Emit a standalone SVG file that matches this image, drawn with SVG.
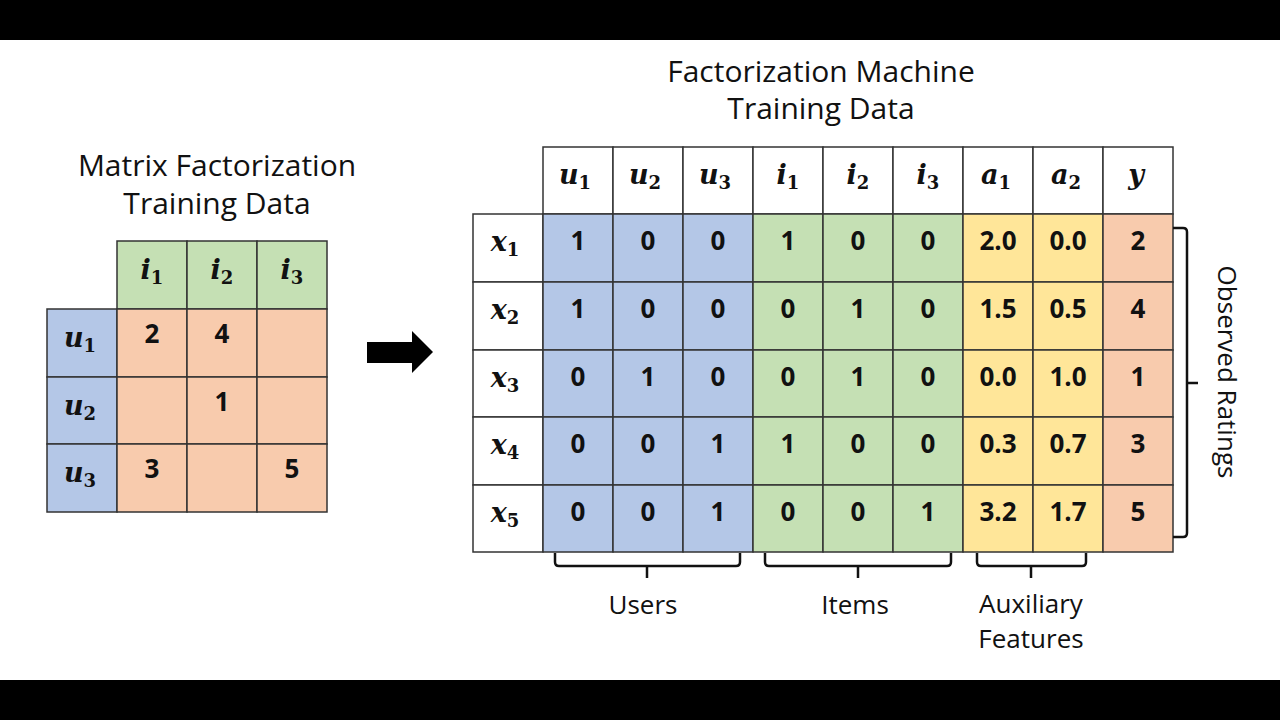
<svg xmlns="http://www.w3.org/2000/svg" width="1280" height="720" viewBox="0 0 1280 720">
<style>
.bar{fill:#000}
.c{stroke:#333;stroke-width:1.5}
.w{fill:#fff}
.b{fill:#B4C7E7}
.g{fill:#C5E0B4}
.y{fill:#FFE699}
.o{fill:#F8CBAD}
.t{font-family:"Open Sans","Noto Sans",sans-serif;font-size:30px;fill:#111;text-anchor:middle}
.l{font-family:"Open Sans","Noto Sans",sans-serif;font-size:26px;fill:#111;text-anchor:middle}
.n{font-family:"Open Sans","Noto Sans",sans-serif;font-size:26px;font-weight:bold;fill:#111;text-anchor:middle}
.m{font-family:"DejaVu Serif","Liberation Serif",serif;font-size:27px;font-weight:bold;font-style:italic;fill:#111;text-anchor:middle}
.s{font-size:18px;font-style:normal}
.br{fill:none;stroke:#111;stroke-width:2.5;stroke-linejoin:round;stroke-linecap:butt}
</style>
<rect x="0" y="0" width="1280" height="720" fill="#fff"/>
<rect class="bar" x="0" y="0" width="1280" height="40"/>
<rect class="bar" x="0" y="680" width="1280" height="40"/>

<g id="title-mf">
<text class="t" x="217" y="176">Matrix Factorization</text>
<text class="t" x="217" y="214">Training Data</text>
</g>
<g id="title-fm">
<text class="t" x="821" y="82">Factorization Machine</text>
<text class="t" x="821" y="119">Training Data</text>
</g>

<g id="mf-matrix">
<rect class="c g" x="117" y="241" width="70" height="68"/>
<rect class="c g" x="187" y="241" width="70" height="68"/>
<rect class="c g" x="257" y="241" width="70" height="68"/>
<rect class="c b" x="47" y="309" width="70" height="68"/>
<rect class="c b" x="47" y="377" width="70" height="67"/>
<rect class="c b" x="47" y="444" width="70" height="68"/>
<rect class="c o" x="117" y="309" width="70" height="68"/>
<rect class="c o" x="187" y="309" width="70" height="68"/>
<rect class="c o" x="257" y="309" width="70" height="68"/>
<rect class="c o" x="117" y="377" width="70" height="67"/>
<rect class="c o" x="187" y="377" width="70" height="67"/>
<rect class="c o" x="257" y="377" width="70" height="67"/>
<rect class="c o" x="117" y="444" width="70" height="68"/>
<rect class="c o" x="187" y="444" width="70" height="68"/>
<rect class="c o" x="257" y="444" width="70" height="68"/>
<text class="m" x="152" y="279">i<tspan class="s" dy="5">1</tspan></text>
<text class="m" x="222" y="279">i<tspan class="s" dy="5">2</tspan></text>
<text class="m" x="292" y="279">i<tspan class="s" dy="5">3</tspan></text>
<text class="m" x="80" y="347">u<tspan class="s" dy="5">1</tspan></text>
<text class="m" x="80" y="415">u<tspan class="s" dy="5">2</tspan></text>
<text class="m" x="80" y="482">u<tspan class="s" dy="5">3</tspan></text>
<text class="n" x="152" y="343">2</text>
<text class="n" x="222" y="343">4</text>
<text class="n" x="222" y="411">1</text>
<text class="n" x="152" y="478">3</text>
<text class="n" x="292" y="478">5</text>
</g>

<g id="arrow">
<path d="M367,342 H412 V331 L433,352 L412,373 V363 H367 Z" fill="#000"/>
</g>

<g id="fm-table">
<rect class="c w" x="543" y="147" width="70" height="67"/>
<rect class="c w" x="613" y="147" width="70" height="67"/>
<rect class="c w" x="683" y="147" width="70" height="67"/>
<rect class="c w" x="753" y="147" width="70" height="67"/>
<rect class="c w" x="823" y="147" width="70" height="67"/>
<rect class="c w" x="893" y="147" width="70" height="67"/>
<rect class="c w" x="963" y="147" width="70" height="67"/>
<rect class="c w" x="1033" y="147" width="70" height="67"/>
<rect class="c w" x="1103" y="147" width="70" height="67"/>
<rect class="c w" x="473" y="214" width="70" height="68"/>
<rect class="c w" x="473" y="282" width="70" height="68"/>
<rect class="c w" x="473" y="350" width="70" height="67"/>
<rect class="c w" x="473" y="417" width="70" height="68"/>
<rect class="c w" x="473" y="485" width="70" height="67"/>
<rect class="c b" x="543" y="214" width="70" height="68"/><rect class="c b" x="613" y="214" width="70" height="68"/><rect class="c b" x="683" y="214" width="70" height="68"/>
<rect class="c b" x="543" y="282" width="70" height="68"/><rect class="c b" x="613" y="282" width="70" height="68"/><rect class="c b" x="683" y="282" width="70" height="68"/>
<rect class="c b" x="543" y="350" width="70" height="67"/><rect class="c b" x="613" y="350" width="70" height="67"/><rect class="c b" x="683" y="350" width="70" height="67"/>
<rect class="c b" x="543" y="417" width="70" height="68"/><rect class="c b" x="613" y="417" width="70" height="68"/><rect class="c b" x="683" y="417" width="70" height="68"/>
<rect class="c b" x="543" y="485" width="70" height="67"/><rect class="c b" x="613" y="485" width="70" height="67"/><rect class="c b" x="683" y="485" width="70" height="67"/>
<rect class="c g" x="753" y="214" width="70" height="68"/><rect class="c g" x="823" y="214" width="70" height="68"/><rect class="c g" x="893" y="214" width="70" height="68"/>
<rect class="c g" x="753" y="282" width="70" height="68"/><rect class="c g" x="823" y="282" width="70" height="68"/><rect class="c g" x="893" y="282" width="70" height="68"/>
<rect class="c g" x="753" y="350" width="70" height="67"/><rect class="c g" x="823" y="350" width="70" height="67"/><rect class="c g" x="893" y="350" width="70" height="67"/>
<rect class="c g" x="753" y="417" width="70" height="68"/><rect class="c g" x="823" y="417" width="70" height="68"/><rect class="c g" x="893" y="417" width="70" height="68"/>
<rect class="c g" x="753" y="485" width="70" height="67"/><rect class="c g" x="823" y="485" width="70" height="67"/><rect class="c g" x="893" y="485" width="70" height="67"/>
<rect class="c y" x="963" y="214" width="70" height="68"/><rect class="c y" x="1033" y="214" width="70" height="68"/>
<rect class="c y" x="963" y="282" width="70" height="68"/><rect class="c y" x="1033" y="282" width="70" height="68"/>
<rect class="c y" x="963" y="350" width="70" height="67"/><rect class="c y" x="1033" y="350" width="70" height="67"/>
<rect class="c y" x="963" y="417" width="70" height="68"/><rect class="c y" x="1033" y="417" width="70" height="68"/>
<rect class="c y" x="963" y="485" width="70" height="67"/><rect class="c y" x="1033" y="485" width="70" height="67"/>
<rect class="c o" x="1103" y="214" width="70" height="68"/>
<rect class="c o" x="1103" y="282" width="70" height="68"/>
<rect class="c o" x="1103" y="350" width="70" height="67"/>
<rect class="c o" x="1103" y="417" width="70" height="68"/>
<rect class="c o" x="1103" y="485" width="70" height="67"/>

<text class="m" x="575" y="184">u<tspan class="s" dy="5">1</tspan></text>
<text class="m" x="645" y="184">u<tspan class="s" dy="5">2</tspan></text>
<text class="m" x="715" y="184">u<tspan class="s" dy="5">3</tspan></text>
<text class="m" x="788" y="184">i<tspan class="s" dy="5">1</tspan></text>
<text class="m" x="858" y="184">i<tspan class="s" dy="5">2</tspan></text>
<text class="m" x="928" y="184">i<tspan class="s" dy="5">3</tspan></text>
<text class="m" x="996" y="184">a<tspan class="s" dy="5">1</tspan></text>
<text class="m" x="1066" y="184">a<tspan class="s" dy="5">2</tspan></text>
<text class="m" x="1136" y="184">y</text>
<text class="m" x="505" y="251">x<tspan class="s" dy="5">1</tspan></text>
<text class="m" x="505" y="319">x<tspan class="s" dy="5">2</tspan></text>
<text class="m" x="505" y="387">x<tspan class="s" dy="5">3</tspan></text>
<text class="m" x="505" y="454">x<tspan class="s" dy="5">4</tspan></text>
<text class="m" x="505" y="522">x<tspan class="s" dy="5">5</tspan></text>

<text class="n" x="578" y="250">1</text><text class="n" x="648" y="250">0</text><text class="n" x="718" y="250">0</text>
<text class="n" x="788" y="250">1</text><text class="n" x="858" y="250">0</text><text class="n" x="928" y="250">0</text>
<text class="n" x="998" y="250">2.0</text><text class="n" x="1068" y="250">0.0</text><text class="n" x="1138" y="250">2</text>

<text class="n" x="578" y="318">1</text><text class="n" x="648" y="318">0</text><text class="n" x="718" y="318">0</text>
<text class="n" x="788" y="318">0</text><text class="n" x="858" y="318">1</text><text class="n" x="928" y="318">0</text>
<text class="n" x="998" y="318">1.5</text><text class="n" x="1068" y="318">0.5</text><text class="n" x="1138" y="318">4</text>

<text class="n" x="578" y="386">0</text><text class="n" x="648" y="386">1</text><text class="n" x="718" y="386">0</text>
<text class="n" x="788" y="386">0</text><text class="n" x="858" y="386">1</text><text class="n" x="928" y="386">0</text>
<text class="n" x="998" y="386">0.0</text><text class="n" x="1068" y="386">1.0</text><text class="n" x="1138" y="386">1</text>

<text class="n" x="578" y="453">0</text><text class="n" x="648" y="453">0</text><text class="n" x="718" y="453">1</text>
<text class="n" x="788" y="453">1</text><text class="n" x="858" y="453">0</text><text class="n" x="928" y="453">0</text>
<text class="n" x="998" y="453">0.3</text><text class="n" x="1068" y="453">0.7</text><text class="n" x="1138" y="453">3</text>

<text class="n" x="578" y="521">0</text><text class="n" x="648" y="521">0</text><text class="n" x="718" y="521">1</text>
<text class="n" x="788" y="521">0</text><text class="n" x="858" y="521">0</text><text class="n" x="928" y="521">1</text>
<text class="n" x="998" y="521">3.2</text><text class="n" x="1068" y="521">1.7</text><text class="n" x="1138" y="521">5</text>
</g>

<g id="connectors">
<path class="br" d="M555,553 V562 Q555,566 559,566 H736 Q740,566 740,562 V553 M647,566 V578"/>
<path class="br" d="M765,553 V562 Q765,566 769,566 H947 Q951,566 951,562 V553 M858,566 V578"/>
<path class="br" d="M977,553 V562 Q977,566 981,566 H1082 Q1086,566 1086,562 V553 M1031,566 V578"/>
<path class="br" d="M1173,228 H1183 Q1187,228 1187,232 V533 Q1187,537 1183,537 H1173 M1187,383 H1198"/>
</g>

<g id="labels">
<text class="l" x="643" y="614">Users</text>
<text class="l" x="855" y="614">Items</text>
<text class="l" x="1031" y="613">Auxiliary</text>
<text class="l" x="1031" y="648">Features</text>
<text class="l" transform="translate(1218,372) rotate(90)">Observed Ratings</text>
</g>
</svg>
